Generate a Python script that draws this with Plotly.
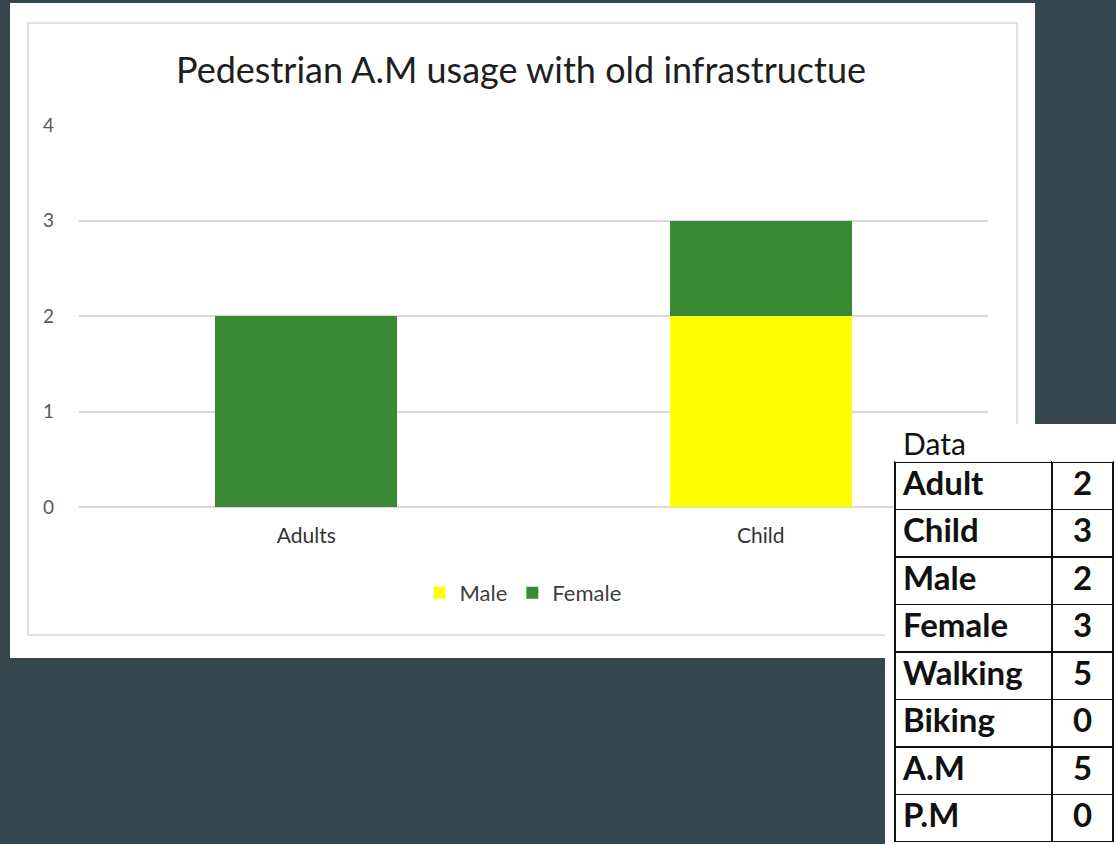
import plotly.graph_objects as go

# ---- data ----
categories = ["Adults", "Child"]
male = [0, 2]
female = [2, 1]
series_names = ["Male", "Female"]
y_ticks = [0, 1, 2, 3, 4]

table_labels = ["Adult", "Child", "Male", "Female", "Walking", "Biking", "A.M", "P.M"]
table_values = [2, 3, 2, 3, 5, 0, 5, 0]

W, H = 1116, 844
def px(x):
    return x / W
def py(y):
    return 1 - y / H

BG = "#36464F"
fig = go.Figure()
fig.add_trace(go.Bar(x=categories, y=male, name=series_names[0], marker_color="#FFFF00",
                     marker_line_width=0))
fig.add_trace(go.Bar(x=categories, y=female, name=series_names[1], marker_color="#3A8A33",
                     marker_line_width=0))

fig.add_trace(go.Table(
    domain=dict(x=[px(895), px(1113)], y=[py(842), py(424)]),
    columnwidth=[157, 61],
    header=dict(values=["Data", ""], height=38, align=["left", "left"],
                fill_color="white", line=dict(color="white", width=0),
                font=dict(family="Lato", size=30, color="#111111")),
    cells=dict(values=[table_labels, table_values], height=47.5,
               align=["left", "center"], fill_color="white",
               line=dict(color="#111111", width=1.5),
               font=dict(family="Lato", size=33, color="#111111", weight=700)),
))

fig.update_layout(
    width=W, height=H,
    margin=dict(l=0, r=0, t=0, b=0, autoexpand=False),
    paper_bgcolor=BG, plot_bgcolor="rgba(0,0,0,0)",
    barmode="stack", bargap=0.6,
    font=dict(family="Lato", color="#595959"),
    title=dict(text="Pedestrian A.M usage with old infrastructue",
               x=px(521), xanchor="center", y=py(70), yanchor="middle",
               font=dict(family="Lato", size=36, color="#1E1E1E")),
    xaxis=dict(domain=[px(79), px(988)], showgrid=False, showline=False, ticks="",
               tickfont=dict(size=21, color="#333333"), ticklabelstandoff=14),
    yaxis=dict(domain=[py(507), py(125)], range=[0, 4], tickvals=y_ticks,
               showgrid=True, gridcolor="#D9D9D9", gridwidth=1.5, zeroline=True,
               zerolinecolor="#D9D9D9", zerolinewidth=1.5, showline=False,
               ticks="", tickfont=dict(size=19, color="#595959"), ticklabelstandoff=24),
    legend=dict(orientation="h", x=px(523), xanchor="center", y=py(593), yanchor="middle",
                font=dict(size=22, color="#404040"), traceorder="normal",
                itemwidth=30, bgcolor="rgba(0,0,0,0)"),
    shapes=[
        dict(type="rect", xref="paper", yref="paper", x0=px(10), x1=px(1035), y0=py(658), y1=py(3),
             fillcolor="white", line_width=0, layer="below"),
        dict(type="rect", xref="paper", yref="paper", x0=px(28), x1=px(1017), y0=py(635), y1=py(23),
             fillcolor="rgba(0,0,0,0)", line=dict(color="#D9D9D9", width=1.5), layer="below"),
        dict(type="rect", xref="paper", yref="paper", x0=px(885), x1=px(1116), y0=py(844), y1=py(424),
             fillcolor="white", line_width=0, layer="below"),
    ],
)

fig.write_html("out.html", config={"displayModeBar": False},
               post_script="document.body.style.margin='0';document.body.style.overflow='hidden';"
                           "document.body.style.background='" + BG + "';")
